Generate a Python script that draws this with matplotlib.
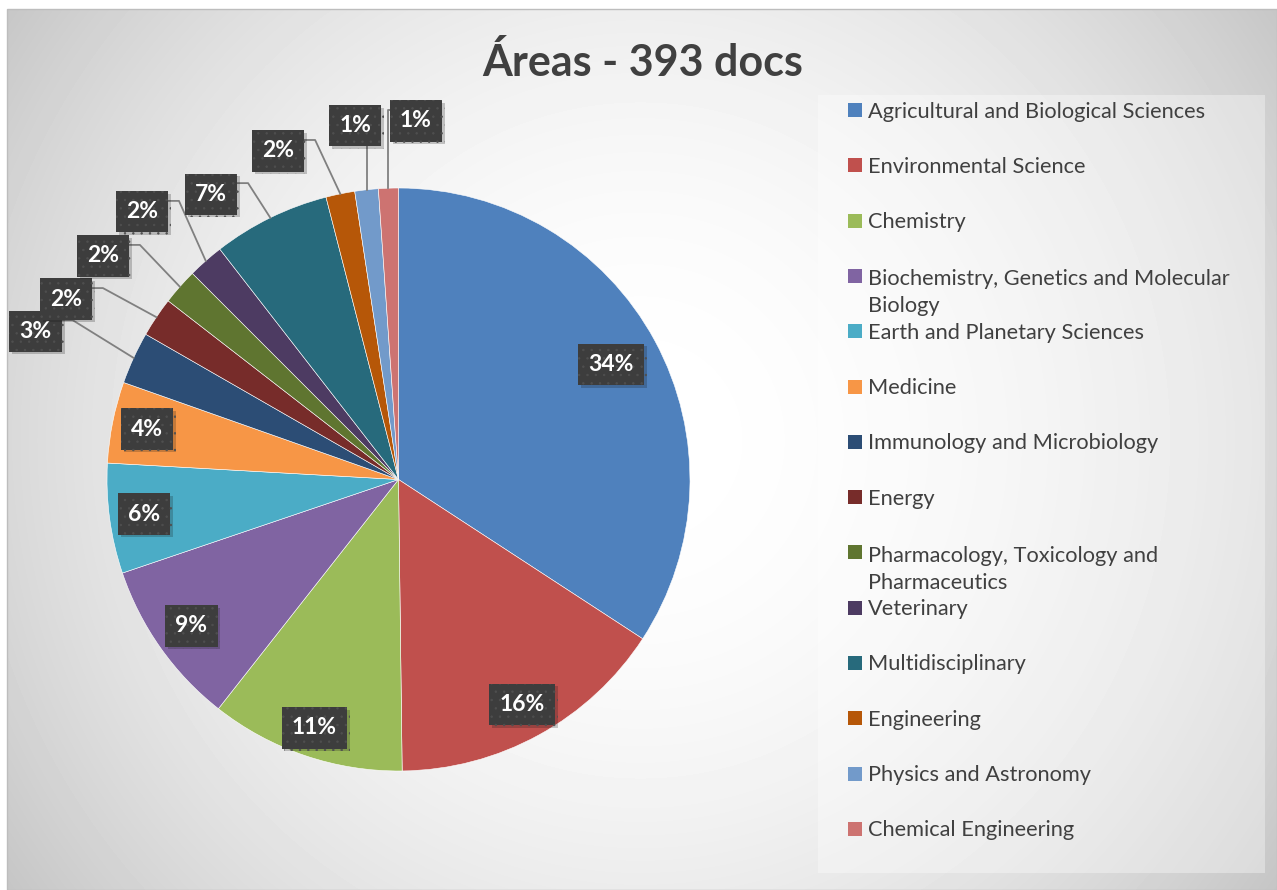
import textwrap

import numpy as np
import matplotlib.pyplot as plt
import matplotlib.patheffects as pe
from matplotlib.patches import Rectangle

# share of documents per subject area (%), clockwise from 12 o'clock
categories = [
    "Agricultural and Biological Sciences",
    "Environmental Science",
    "Chemistry",
    "Biochemistry, Genetics and Molecular Biology",
    "Earth and Planetary Sciences",
    "Medicine",
    "Immunology and Microbiology",
    "Energy",
    "Pharmacology, Toxicology and Pharmaceutics",
    "Veterinary",
    "Multidisciplinary",
    "Engineering",
    "Physics and Astronomy",
    "Chemical Engineering",
]
shares = [34.2, 15.6, 10.8, 9.2, 6.1, 4.5, 2.9, 2.2, 2.0, 2.0, 6.5, 1.6, 1.3, 1.1]
pct_labels = ["34%", "16%", "11%", "9%", "6%", "4%", "3%",
              "2%", "2%", "2%", "7%", "2%", "1%", "1%"]
colors = ["#4F81BD", "#C0504D", "#9BBB59", "#8064A2", "#4BACC6", "#F79646",
          "#2C4D75", "#772C2A", "#5F7530", "#4D3B62", "#276A7C", "#B65708",
          "#729ACA", "#CD7371"]

W, H = 1277, 890
plt.rcParams['font.family'] = ['Lato', 'DejaVu Sans']
plt.rcParams['hatch.linewidth'] = 0.5
fig = plt.figure(figsize=(W / 100, H / 100), dpi=100)

# background layer, in pixel coordinates
bg = fig.add_axes([0, 0, 1, 1])
bg.set_xlim(0, W)
bg.set_ylim(H, 0)
bg.axis('off')
yy, xx = np.mgrid[9:H, 7:W]
d = np.hypot(xx - 640, yy - 440) / 777
shade = 1 - 0.227 * d**2
bg.imshow(shade, cmap='gray', vmin=0, vmax=1, extent=[7, W, H, 9],
          aspect='auto', interpolation='bilinear')
bg.add_patch(Rectangle((7, 9), W - 7, H - 9, fill=False, ec='#bdbdbd', lw=1))
bg.add_patch(Rectangle((818, 95), 447, 778, fc='white', alpha=0.35, ec='none'))

bg.text(643, 62, "Áreas - 393 docs", ha='center', va='center',
        fontsize=31, weight='bold', color='#404040')

# legend drawn by hand so wrapped entries keep the fixed row pitch
for i, (name, c) in enumerate(zip(categories, colors)):
    yc = 110 + 55.3 * i
    label = textwrap.fill(name, 36)
    extra = label.count("\n") * 29
    bg.add_patch(Rectangle((848, yc - 7), 14, 14, fc=c, ec='none'))
    bg.text(868, yc + 7.5 + extra, label, va='baseline', ha='left',
            fontsize=15.7, color='#404040', linespacing=1.45)

# pie
R = 291.5
A = 1.4
cx, cy = 398.5, 479.5
half = A * R
ax = fig.add_axes([(cx - half) / W, (H - cy - half) / H, 2 * half / W, 2 * half / H])
wedges, _ = ax.pie(shares, colors=colors, startangle=90, counterclock=False,
                   radius=1, wedgeprops=dict(edgecolor='white', linewidth=0.4))
ax.set_xlim(-A, A)
ax.set_ylim(-A, A)
ax.axis('off')

inside_r = {0: 0.83, 1: 0.88, 2: 0.9, 3: 0.87, 4: 0.88, 5: 0.88}
outside_xy = {6: (-1.245, 0.509), 7: (-1.141, 0.619), 8: (-1.014, 0.767),
              9: (-0.880, 0.918), 10: (-0.643, 0.979), 11: (-0.413, 1.127),
              12: (-0.149, 1.213), 13: (0.060, 1.230)}

box_style = dict(boxstyle='square,pad=0.44', fc='#3d3d3d', ec='#4f4f4f',
                 lw=0, hatch='..')
hw, hh = 25 / R, 20 / R
for i, w in enumerate(wedges):
    mid = np.deg2rad((w.theta1 + w.theta2) / 2)
    ex, ey = np.cos(mid), np.sin(mid)
    if i in inside_r:
        xb, yb = inside_r[i] * ex, inside_r[i] * ey
    else:
        xb, yb = outside_xy[i]
        ya = yb + 11 / R
        if ex > xb + hw:
            pts = [(xb + hw, ya), (xb + hw + 12 / R, ya), (ex, ey)]
        elif ex < xb - hw:
            pts = [(xb - hw, ya), (ex, ya), (ex, ey)]
        else:
            pts = [(ex, yb - hh), (ex, ey)]
        px, py = zip(*pts)
        ax.plot(px, py, color='#808080', lw=1.3, zorder=3, clip_on=False)
    t = ax.text(xb, yb, pct_labels[i], ha='center', va='center', color='white',
                fontsize=16.5, weight='bold', bbox=box_style, zorder=5)
    t.get_bbox_patch().set_path_effects(
        [pe.SimplePatchShadow(offset=(2, -2), alpha=0.22), pe.Normal()])

fig.savefig("out.png", dpi=100)
